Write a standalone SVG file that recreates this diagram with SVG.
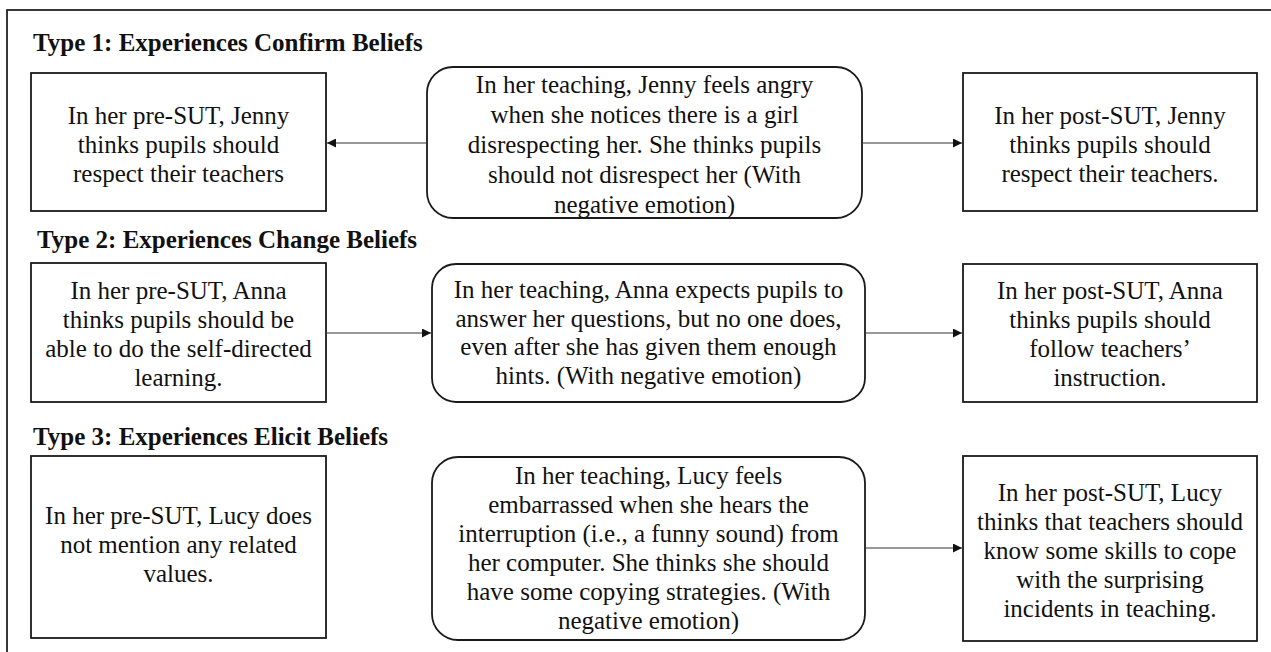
<svg xmlns="http://www.w3.org/2000/svg" width="1271" height="652" viewBox="0 0 1271 652">
<style>
.box{fill:#fff;stroke:#1a1a1a;stroke-width:1.8}
.t{font-family:"Liberation Serif","Times New Roman",serif;font-size:25px;fill:#111;text-anchor:middle}
.h{font-family:"Liberation Serif","Times New Roman",serif;font-size:25px;font-weight:bold;fill:#111}
.c{stroke:#333;stroke-width:1.2;fill:none;marker-end:url(#ah)}
</style>
<defs>
<marker id="ah" viewBox="0 0 10 10" refX="10" refY="5" markerWidth="9" markerHeight="9" markerUnits="userSpaceOnUse" orient="auto">
<path d="M0,0 L10,5 L0,10 z" fill="#111"/>
</marker>
</defs>
<rect x="0" y="0" width="1271" height="652" fill="#fff"/>
<rect x="7" y="10" width="1290" height="700" fill="none" stroke="#222" stroke-width="1.8"/>
<text class="h" x="33" y="51">Type 1: Experiences Confirm Beliefs</text>
<text class="h" x="37" y="248">Type 2: Experiences Change Beliefs</text>
<text class="h" x="33" y="445">Type 3: Experiences Elicit Beliefs</text>

<g id="n1a"><rect class="box" x="31" y="73" width="295" height="138"/>
<text class="t" x="178.5" y="124">In her pre-SUT, Jenny</text>
<text class="t" x="178.5" y="153">thinks pupils should</text>
<text class="t" x="178.5" y="182">respect their teachers</text></g>

<g id="n1b"><rect class="box" x="427" y="67" width="435" height="151" rx="26"/>
<text class="t" x="644.5" y="93">In her teaching, Jenny feels angry</text>
<text class="t" x="644.5" y="123">when she notices there is a girl</text>
<text class="t" x="644.5" y="153">disrespecting her. She thinks pupils</text>
<text class="t" x="644.5" y="183">should not disrespect her (With</text>
<text class="t" x="644.5" y="213">negative emotion)</text></g>

<g id="n1c"><rect class="box" x="963" y="73" width="294" height="138"/>
<text class="t" x="1110" y="124">In her post-SUT, Jenny</text>
<text class="t" x="1110" y="153">thinks pupils should</text>
<text class="t" x="1110" y="182">respect their teachers.</text></g>

<g id="n2a"><rect class="box" x="31" y="263" width="295" height="139"/>
<text class="t" x="178.5" y="299">In her pre-SUT, Anna</text>
<text class="t" x="178.5" y="328">thinks pupils should be</text>
<text class="t" x="178.5" y="357">able to do the self-directed</text>
<text class="t" x="178.5" y="386">learning.</text></g>

<g id="n2b"><rect class="box" x="432" y="264" width="433" height="138" rx="24"/>
<text class="t" x="648.5" y="298">In her teaching, Anna expects pupils to</text>
<text class="t" x="648.5" y="326.5">answer her questions, but no one does,</text>
<text class="t" x="648.5" y="355">even after she has given them enough</text>
<text class="t" x="648.5" y="383.5">hints. (With negative emotion)</text></g>

<g id="n2c"><rect class="box" x="963" y="264" width="294" height="138"/>
<text class="t" x="1110" y="299">In her post-SUT, Anna</text>
<text class="t" x="1110" y="328">thinks pupils should</text>
<text class="t" x="1110" y="357">follow teachers’</text>
<text class="t" x="1110" y="386">instruction.</text></g>

<g id="n3a"><rect class="box" x="31" y="456" width="295" height="182"/>
<text class="t" x="178.5" y="524">In her pre-SUT, Lucy does</text>
<text class="t" x="178.5" y="553">not mention any related</text>
<text class="t" x="178.5" y="582">values.</text></g>

<g id="n3b"><rect class="box" x="432" y="457" width="433" height="183" rx="26"/>
<text class="t" x="648.5" y="484">In her teaching, Lucy feels</text>
<text class="t" x="648.5" y="513">embarrassed when she hears the</text>
<text class="t" x="648.5" y="542">interruption (i.e., a funny sound) from</text>
<text class="t" x="648.5" y="571">her computer. She thinks she should</text>
<text class="t" x="648.5" y="600">have some copying strategies. (With</text>
<text class="t" x="648.5" y="629">negative emotion)</text></g>

<g id="n3c"><rect class="box" x="963" y="456" width="294" height="185"/>
<text class="t" x="1110" y="501">In her post-SUT, Lucy</text>
<text class="t" x="1110" y="530">thinks that teachers should</text>
<text class="t" x="1110" y="559">know some skills to cope</text>
<text class="t" x="1110" y="588">with the surprising</text>
<text class="t" x="1110" y="617">incidents in teaching.</text></g>

<g id="connectors">
<line class="c" x1="427" y1="143" x2="327" y2="143"/>
<line class="c" x1="862" y1="143" x2="962" y2="143"/>
<line class="c" x1="326" y1="333" x2="431" y2="333"/>
<line class="c" x1="865" y1="333" x2="962" y2="333"/>
<line class="c" x1="865" y1="548" x2="962" y2="548"/>
</g>
</svg>
